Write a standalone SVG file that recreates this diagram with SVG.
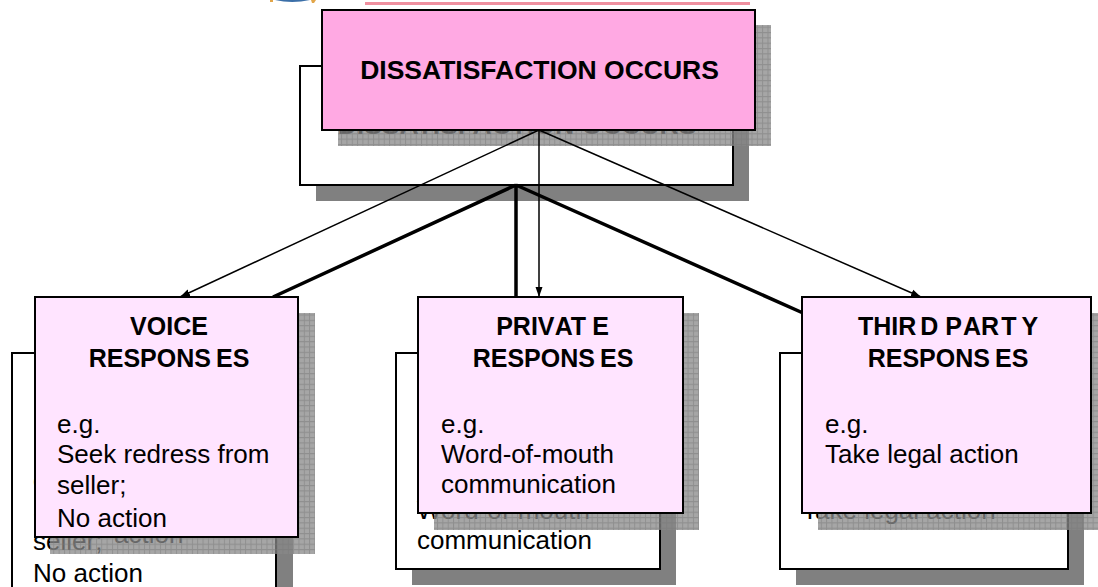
<svg xmlns="http://www.w3.org/2000/svg" width="1098" height="587" viewBox="0 0 1098 587">
<style>
text{font-family:"Liberation Sans",Arial,sans-serif;font-size:26px;fill:#000}
.b{font-weight:bold;font-size:25px}
.tt{font-size:26.5px}
.m{text-anchor:middle}
.back{fill:#fff;stroke:#000;stroke-width:2}
.bs{fill:#808080}
.top{fill:#ffa9e3;stroke:#000;stroke-width:2}
.sub{fill:#ffe4ff;stroke:#000;stroke-width:2}
.fs{fill:url(#grid)}
.thin{stroke:#000;stroke-width:1.5;fill:none}
.thick{stroke:#000;stroke-width:3.5;fill:none}
</style>
<defs>
<pattern id="grid" width="5.33" height="5.33" patternUnits="userSpaceOnUse">
<rect width="5.33" height="5.33" fill="#888" fill-opacity="0.75"/>
<path d="M0 .5H5.33M.5 0V5.33" stroke="#777" stroke-opacity="0.5" stroke-width="1" fill="none"/>
</pattern>
<marker id="arr" markerUnits="userSpaceOnUse" markerWidth="11" markerHeight="8" refX="10" refY="4" orient="auto">
<path d="M0 .5L10 4L0 7.5z" fill="#000"/>
</marker>
</defs>
<g id="header-fragments">
<path d="M275 0Q292 4 310 0z" fill="#3b6fa8"/>
<path d="M270 0h3v2h-3zM311 0h5l-2 3h-2z" fill="#e2a64a"/>
<rect x="365" y="2" width="385" height="3" fill="#f0909f"/>
</g>
<g id="dissatisfaction">
<rect class="bs" x="316" y="82" width="433" height="119"/>
<rect class="back" x="300" y="66" width="433" height="119"/>
<text class="b tt m" x="517" y="134">DISSATISFACTION OCCURS</text>
<rect class="fs" x="338" y="25" width="433" height="121"/>
<rect class="top" x="322" y="10" width="433" height="120"/>
<text class="b tt m" x="539.5" y="79">DISSATISFACTION OCCURS</text>
</g>
<g id="connectors">
<path class="thick" d="M516 185L273 297M516 185V297M516 185L803 313"/>
<path class="thin" marker-end="url(#arr)" d="M539 130L180 297"/>
<path class="thin" marker-end="url(#arr)" d="M539 130V297"/>
<path class="thin" marker-end="url(#arr)" d="M539 130L921 297"/>
</g>
<g id="voice">
<rect class="bs" x="28" y="369" width="265" height="230"/>
<rect class="back" x="12" y="353" width="264" height="245"/>
<text x="33" y="489">e.g.</text>
<text x="33" y="519">Seek redress from</text>
<text x="33" y="550">seller;</text>
<text x="33" y="582">No action</text>
<text x="114" y="543">action</text>
<rect class="fs" x="50" y="313" width="265" height="241"/>
<rect class="sub" x="35" y="297" width="263" height="240"/>
<text class="b m" x="169" y="335">VOICE</text>
<text class="b m" x="169" y="367">RESPONS<tspan dx="5">ES</tspan></text>
<text x="57" y="433">e.g.</text>
<text x="57" y="463">Seek redress from</text>
<text x="57" y="494">seller;</text>
<text x="57" y="527">No action</text>
</g>
<g id="private">
<rect class="bs" x="412" y="369" width="264" height="216"/>
<rect class="back" x="396" y="353" width="264" height="216"/>
<text x="417" y="489">e.g.</text>
<text x="417" y="519">Word-of-mouth</text>
<text x="417" y="549">communication</text>
<rect class="fs" x="434" y="313" width="265" height="217"/>
<rect class="sub" x="418" y="297" width="265" height="216"/>
<text class="b m" x="552.5" y="335">PRIV<tspan dx="2">A</tspan>T<tspan dx="6">E</tspan></text>
<text class="b m" x="553" y="367">RESPONS<tspan dx="5">ES</tspan></text>
<text x="441" y="433">e.g.</text>
<text x="441" y="463">Word-of-mouth</text>
<text x="441" y="493">communication</text>
</g>
<g id="third-party">
<rect class="bs" x="796" y="369" width="288" height="216"/>
<rect class="back" x="780" y="353" width="288" height="216"/>
<text x="802" y="489">e.g.</text>
<text x="802" y="519">Take legal action</text>
<rect class="fs" x="818" y="313" width="280" height="217"/>
<rect class="sub" x="802" y="297" width="289" height="216"/>
<text class="b m" x="948" y="335">THIR<tspan dx="4">D</tspan> P<tspan dx="3">A</tspan>R<tspan dx="2">T</tspan><tspan dx="5">Y</tspan></text>
<text class="b m" x="948" y="367">RESPONS<tspan dx="5">ES</tspan></text>
<text x="825" y="433">e.g.</text>
<text x="825" y="463">Take legal action</text>
</g>
</svg>
